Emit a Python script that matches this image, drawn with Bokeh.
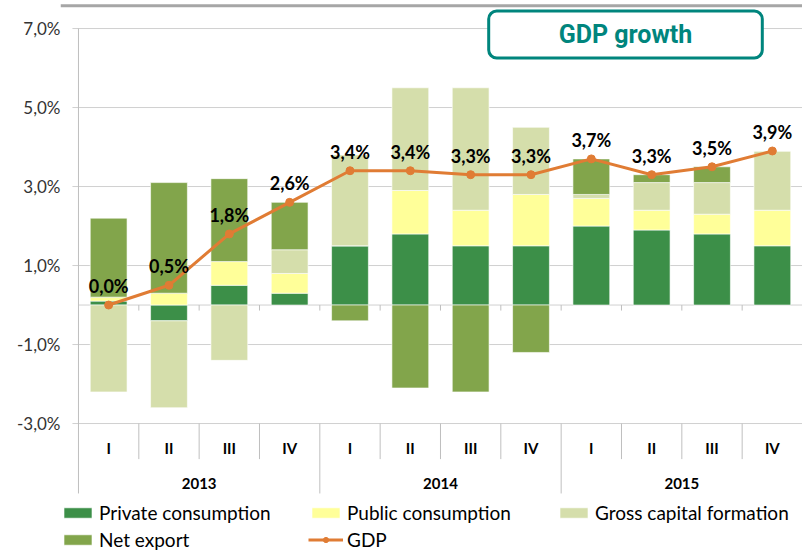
import numpy as np
from bokeh.plotting import figure
from bokeh.models import Range1d, FixedTicker, Legend, LegendItem, Label, CustomJSTickFormatter
from bokeh.core.properties import value
from bokeh.embed import file_html
from bokeh.resources import INLINE

# ---- data ----
years = ["2013", "2014", "2015"]
quarters = ["I", "II", "III", "IV"]
private_consumption = [0.1, -0.4, 0.5, 0.3, 1.5, 1.8, 1.5, 1.5, 2.0, 1.9, 1.8, 1.5]
public_consumption = [0.1, 0.3, 0.6, 0.5, 0.0, 1.1, 0.9, 1.3, 0.7, 0.5, 0.5, 0.9]
gross_capital_formation = [-2.2, -2.2, -1.4, 0.6, 2.3, 2.6, 3.1, 1.7, 0.1, 0.7, 0.8, 1.5]
net_export = [2.0, 2.8, 2.1, 1.2, -0.4, -2.1, -2.2, -1.2, 0.9, 0.2, 0.4, 0.0]
gdp = [0.0, 0.5, 1.8, 2.6, 3.4, 3.4, 3.3, 3.3, 3.7, 3.3, 3.5, 3.9]
y_ticks = [7, 5, 3, 1, -1, -3]
series_names = ["Private consumption", "Public consumption", "Gross capital formation", "Net export"]

# ---- styles ----
colors = ["#3C8F48", "#FFFF99", "#D5DEAB", "#82A54B"]
gdp_color = "#E07C34"
teal = "#00857D"
grid_color = "#D0D0D0"
axis_color = "#BFBFBF"
FONT = "Lato"

n = len(years) * len(quarters)
x = np.arange(n) + 0.5
cat_bottom = -4.77          # bottom of the category-label box
y_min, y_max = -6.29, 7.71  # frame includes legend area below the axis box
x_min = -0.298              # room on the left for the legend swatches
border_y = 7.58             # decorative top rule of the chart area

p = figure(width=802, height=553, output_backend="svg", toolbar_location=None,
           x_range=Range1d(x_min, n), y_range=Range1d(y_min, y_max),
           min_border_left=60, min_border_right=0, min_border_top=0, min_border_bottom=0)
p.outline_line_color = None
p.xaxis.visible = False
p.xgrid.visible = False
p.ygrid.visible = False

ax = p.yaxis[0]
ax.ticker = FixedTicker(ticks=y_ticks)
ax.formatter = CustomJSTickFormatter(code="return tick.toFixed(1).replace('.', ',') + '%';")
ax.axis_line_color = None
ax.major_tick_line_color = None
ax.major_tick_out = 0
ax.major_tick_in = 0
ax.minor_tick_line_color = None
ax.major_label_text_font = FONT
ax.major_label_text_font_size = "17px"
ax.major_label_text_color = "#333333"
ax.major_label_standoff = 0

# top rule
p.segment(x0=[x_min], y0=[border_y], x1=[n], y1=[border_y], line_color="#A6A6A6", line_width=3)

# gridlines (with their small outside tick) and the zero line
tick_len = 0.1
p.segment(x0=-tick_len, y0=y_ticks, x1=n, y1=y_ticks, line_color=grid_color, line_width=1)
p.segment(x0=[0], y0=[0], x1=[n], y1=[0], line_color=grid_color, line_width=1)
# vertical axis line from the bottom of the category box up to the top tick
p.segment(x0=[0], y0=[cat_bottom], x1=[0], y1=[max(y_ticks)], line_color=axis_color, line_width=1)

# ---- stacked bars (positive and negative stacked separately) ----
pos_base = np.zeros(n)
neg_base = np.zeros(n)
bar_renderers = []
for vals, col in zip([private_consumption, public_consumption, gross_capital_formation, net_export], colors):
    v = np.array(vals, dtype=float)
    bottom = np.where(v >= 0, pos_base, neg_base + v)
    top = np.where(v >= 0, pos_base + v, neg_base)
    pos_base = pos_base + np.where(v >= 0, v, 0)
    neg_base = neg_base + np.where(v < 0, v, 0)
    r = p.vbar(x=x, width=0.61, bottom=bottom, top=top, fill_color=col,
               line_color="white", line_alpha=0.6, line_width=1)
    bar_renderers.append(r)

# ---- category axis decorations ----
bounds = np.arange(1, n)
q_bounds = bounds[bounds % len(quarters) != 0]
y_bounds = bounds[bounds % len(quarters) == 0]
p.segment(x0=bounds, y0=0, x1=bounds, y1=-0.14, line_color=axis_color, line_width=1)
p.segment(x0=q_bounds, y0=-3, x1=q_bounds, y1=-3.9, line_color=axis_color, line_width=1)
p.segment(x0=y_bounds, y0=-3, x1=y_bounds, y1=cat_bottom, line_color=axis_color, line_width=1)

q_labels = quarters * len(years)
p.text(x=x, y=-3.63, text=q_labels, text_align="center", text_baseline="middle",
       text_font=value(FONT), text_font_style="bold", text_font_size="15px", text_color="black")
year_x = np.arange(len(years)) * len(quarters) + len(quarters) / 2
p.text(x=year_x, y=-4.52, text=years, text_align="center", text_baseline="middle",
       text_font=value(FONT), text_font_style="bold", text_font_size="15px", text_color="black")

# ---- GDP line ----
gl = p.line(x=x, y=gdp, line_color=gdp_color, line_width=3)
gs = p.scatter(x=x, y=gdp, size=8, fill_color=gdp_color, line_color=gdp_color)
gdp_text = [f"{v:.1f}".replace(".", ",") + "%" for v in gdp]
p.text(x=x, y=gdp, text=gdp_text, y_offset=-19, text_align="center", text_baseline="middle",
       text_font=value(FONT), text_font_style="bold", text_font_size="18px", text_color="black")

# ---- title box ----
title = Label(x=565, y=519, x_units="screen", y_units="screen", text="GDP growth",
              text_align="center", text_baseline="middle", text_font="Roboto",
              text_font_style="bold", text_font_size="25px", text_color=teal,
              border_line_color=teal, border_line_width=3, background_fill_color="white",
              border_radius=8, padding=dict(left=70, right=70, top=9, bottom=9))
p.add_layout(title)

# ---- legend ----
items = [LegendItem(label=nm, renderers=[r]) for nm, r in zip(series_names, bar_renderers)]
items.append(LegendItem(label="GDP", renderers=[gl, gs]))
legend = Legend(items=items, location=(0, 2), orientation="horizontal", ncols=3,
                glyph_width=35, glyph_height=13, label_width=205, label_standoff=4,
                spacing=4, padding=0, margin=0, border_line_color=None,
                background_fill_alpha=0, label_text_font=FONT, label_text_font_size="19px",
                label_text_color="black")
p.add_layout(legend)

open("out.html", "w").write(file_html(p, INLINE))
